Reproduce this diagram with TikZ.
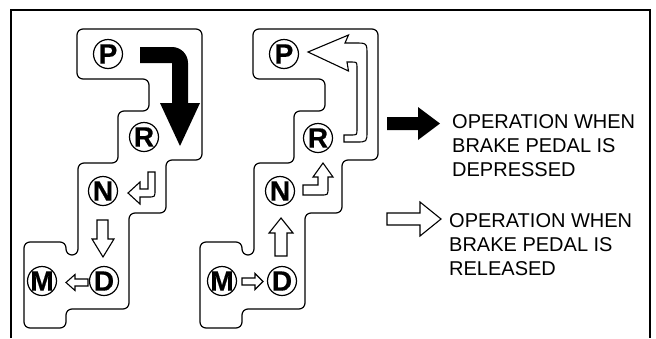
\documentclass[tikz,border=0pt]{standalone}
\usepackage{fontspec}
\setmainfont{Liberation Sans}
\newfontfamily\gateletterfont[BoldFeatures={FakeBold=0.5}]{Liberation Sans}
\newcommand{\gl}[1]{{\gateletterfont\bfseries\fontsize{28}{28}\selectfont #1}}
\begin{document}
\begin{tikzpicture}[x=1pt,y=-1pt,
  gateline/.style={draw, line width=1.2pt, rounded corners=6pt},
  gatepos/.style={circle, draw, line width=1.2pt, minimum size=29pt, inner sep=-6pt},
  warrow/.style={draw, fill=white, line width=1.1pt, line join=miter},
  barrow/.style={fill=black},
  legendline/.style={anchor=base west, inner sep=0pt, font=\fontsize{20}{24}\selectfont},
  gateshape/.pic={
    \draw[gateline] (140,29) -- (202,29) -- (202,160) -- (166,160) -- (166,213)
      -- (129,213) -- (129,309) -- (66,309) -- (66,328) -- (24,328) -- (24,242)
      -- (66,242) -- (66,255) -- (78,255) -- (78,163) -- (118,163) -- (118,111)
      -- (149,111) -- (149,79) -- (77,79) -- (77,29) -- cycle;
  }]
\useasboundingbox (0,0) rectangle (656,338);
% frame
\draw[line width=2pt] (11,338) -- (11,10) -- (650,10) -- (650,338);

% gates
\pic at (0,0) {gateshape};
\pic at (176,0) {gateshape};

% left gate positions
\node[gatepos] (lP) at (108,54) {\gl{P}};
\node[gatepos] (lR) at (144,137) {\gl{R}};
\node[gatepos] (lN) at (103,191) {\gl{N}};
\node[gatepos] (lD) at (104,281) {\gl{D}};
\node[gatepos] (lM) at (42,281) {\gl{M}};

% middle gate positions
\node[gatepos] (mP) at (284,54) {\gl{P}};
\node[gatepos] (mR) at (318,138) {\gl{R}};
\node[gatepos] (mN) at (280,191) {\gl{N}};
\node[gatepos] (mD) at (282,281) {\gl{D}};
\node[gatepos] (mM) at (222,281) {\gl{M}};

% left: black bent arrow P -> R
\fill[barrow] (140,47) -- (172,47) .. controls (180.8,47) and (188,54.2) .. (188,63)
  -- (188,103) -- (200,103) -- (180,146) -- (160,103) -- (172,103) -- (172,63)
  -- (140,63) -- cycle;

% left: hook R -> N
\draw[warrow] (148,172) -- (155,172) -- (155,190) .. controls (155,197) .. (148,197)
  -- (140,197) -- (140,204) -- (128,193) -- (140,182) -- (140,189) -- (148,189) -- cycle;

% left: N -> D
\draw[warrow] (97,220) -- (108,220) -- (108,239) -- (114,239) -- (103,257)
  -- (92,239) -- (97,239) -- cycle;

% left: D -> M
\draw[warrow] (88,279) -- (88,286) -- (75,286) -- (75,290.5) -- (66,282.5)
  -- (75,274.5) -- (75,279) -- cycle;

% middle: M -> D
\draw[warrow] (242,278) -- (242,285) -- (255,285) -- (255,289.5) -- (263,281.5)
  -- (255,273.5) -- (255,278) -- cycle;

% middle: D -> N
\draw[warrow] (275,256) -- (287,256) -- (287,233) -- (293,233) -- (281,218)
  -- (269,233) -- (275,233) -- cycle;

% middle: N -> R hook
\draw[warrow] (303,185) -- (318,185) -- (318,177) -- (313,177) -- (323,163)
  -- (333,177) -- (328,177) -- (328,188) .. controls (328,195) .. (321,195)
  -- (303,195) -- cycle;

% middle: R -> P big U arrow
\draw[warrow] (344,135) -- (351,135) .. controls (357,135) .. (357,129)
  -- (357,68) .. controls (357,62) .. (351,62) -- (347,62) -- (348.5,71)
  -- (308,52) -- (348.5,35) -- (345,43) -- (355,43)
  .. controls (367,43) .. (367,55) -- (367,131) .. controls (367,142) .. (356,142)
  -- (344,142) -- cycle;

% legend arrows
\fill[barrow] (387,117) -- (418,117) -- (418,107) -- (440,123.5) -- (418,140)
  -- (418,130) -- (387,130) -- cycle;
\draw[warrow] (387,213) -- (420,213) -- (420,202) -- (441,219) -- (420,236)
  -- (420,225) -- (387,225) -- cycle;

% legend texts
\node[legendline] (t1a) at (452,128) {OPERATION WHEN};
\node[legendline] (t1b) at (452,152) {BRAKE PEDAL IS};
\node[legendline] (t1c) at (452,176) {DEPRESSED};
\node[legendline] (t2a) at (449,227) {OPERATION WHEN};
\node[legendline] (t2b) at (449,251) {BRAKE PEDAL IS};
\node[legendline] (t2c) at (449,275) {RELEASED};
\end{tikzpicture}
\end{document}
